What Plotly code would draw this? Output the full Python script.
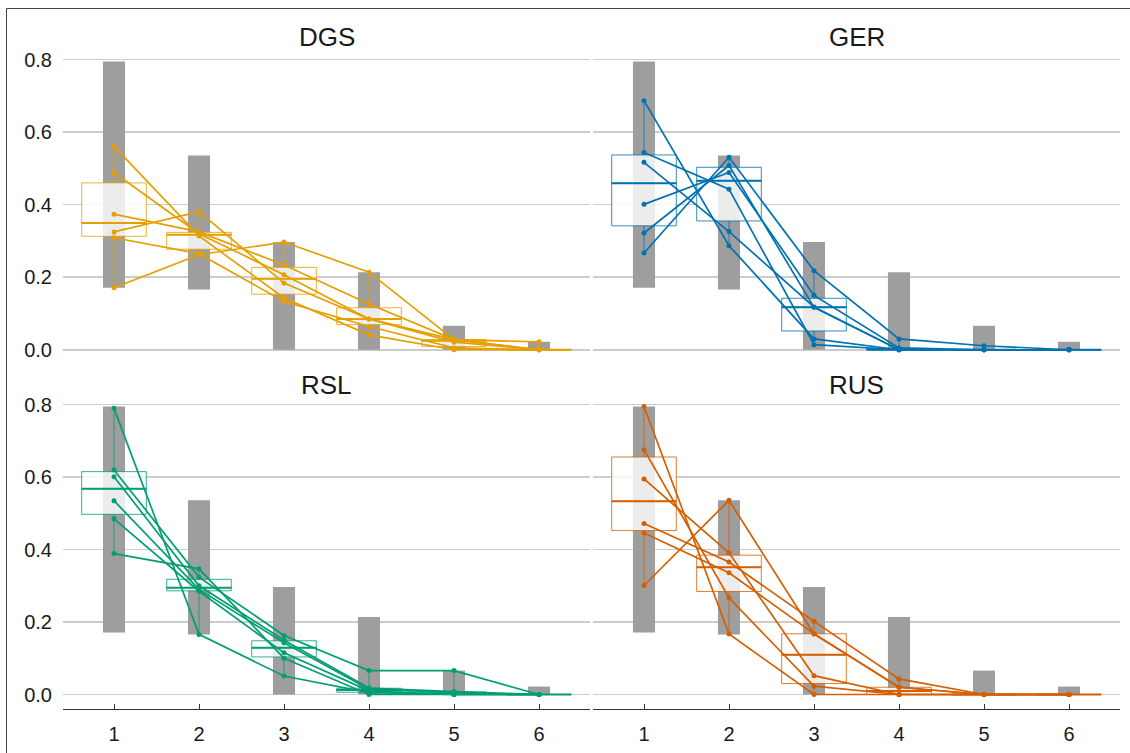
import numpy as np
import plotly.graph_objects as go

positions = [1, 2, 3, 4, 5, 6]
languages = ["DGS", "GER", "RSL", "RUS"]
colors = {"DGS": "#E69F00", "GER": "#0072B2", "RSL": "#009E73", "RUS": "#D55E00"}
y_ticks = [0.0, 0.2, 0.4, 0.6, 0.8]

# one row per speaker, one column per position 1..6
DGS = [
    [0.561, 0.314, 0.143, 0.041, 0.000, 0.000],
    [0.489, 0.320, 0.207, 0.085, 0.028, 0.000],
    [0.374, 0.325, 0.234, 0.126, 0.028, 0.000],
    [0.325, 0.381, 0.184, 0.085, 0.021, 0.000],
    [0.309, 0.265, 0.133, 0.064, 0.005, 0.000],
    [0.171, 0.262, 0.297, 0.214, 0.028, 0.022],
]
GER = [
    [0.687, 0.287, 0.030, 0.000, 0.000, 0.000],
    [0.544, 0.443, 0.014, 0.000, 0.000, 0.000],
    [0.517, 0.326, 0.118, 0.000, 0.000, 0.000],
    [0.401, 0.489, 0.150, 0.005, 0.000, 0.000],
    [0.322, 0.508, 0.117, 0.000, 0.000, 0.000],
    [0.267, 0.531, 0.218, 0.030, 0.011, 0.000],
]
RSL = [
    [0.790, 0.166, 0.051, 0.005, 0.000, 0.000],
    [0.620, 0.324, 0.163, 0.066, 0.066, 0.000],
    [0.601, 0.300, 0.150, 0.018, 0.008, 0.000],
    [0.535, 0.290, 0.143, 0.015, 0.005, 0.000],
    [0.485, 0.285, 0.115, 0.010, 0.000, 0.000],
    [0.389, 0.347, 0.100, 0.000, 0.000, 0.000],
]
RUS = [
    [0.795, 0.167, 0.000, 0.000, 0.000, 0.000],
    [0.676, 0.267, 0.023, 0.000, 0.000, 0.000],
    [0.595, 0.391, 0.052, 0.000, 0.000, 0.000],
    [0.472, 0.366, 0.202, 0.043, 0.000, 0.000],
    [0.446, 0.336, 0.168, 0.020, 0.000, 0.000],
    [0.301, 0.536, 0.167, 0.020, 0.000, 0.000],
]
data = {"DGS": DGS, "GER": GER, "RSL": RSL, "RUS": RUS}

allvals = np.array(DGS + GER + RSL + RUS)
gmin = allvals.min(axis=0)
gmax = allvals.max(axis=0)

BOX_W = 0.76
BAR_W = 0.26


def rgba(hexc, a):
    h = hexc.lstrip("#")
    r, g, b = int(h[0:2], 16), int(h[2:4], 16), int(h[4:6], 16)
    return f"rgba({r},{g},{b},{a})"


fig = go.Figure()
axes = [("x", "y"), ("x2", "y2"), ("x3", "y3"), ("x4", "y4")]
for lang, (xa, ya) in zip(languages, axes):
    col = colors[lang]
    arr = np.array(data[lang])
    fig.add_trace(go.Bar(
        x=positions, y=(gmax - gmin).tolist(), base=gmin.tolist(), width=BAR_W,
        marker=dict(color="#9e9e9e", line=dict(width=0)),
        xaxis=xa, yaxis=ya, showlegend=False, hoverinfo="skip"))
    q1 = np.percentile(arr, 25, axis=0)
    med = np.percentile(arr, 50, axis=0)
    q3 = np.percentile(arr, 75, axis=0)
    fig.add_trace(go.Box(
        x=positions, q1=q1.tolist(), median=med.tolist(), q3=q3.tolist(),
        lowerfence=arr.min(axis=0).tolist(), upperfence=arr.max(axis=0).tolist(),
        width=BOX_W, whiskerwidth=0, boxpoints=False,
        fillcolor="rgba(255,255,255,0.8)",
        line=dict(color=rgba(col, 0.8), width=1),
        xaxis=xa, yaxis=ya, showlegend=False, hoverinfo="skip"))
    mx, my = [], []
    for p, m in zip(positions, med):
        mx += [p - BOX_W / 2, p + BOX_W / 2, None]
        my += [m, m, None]
    fig.add_trace(go.Scatter(
        x=mx, y=my, mode="lines", line=dict(color=col, width=2),
        xaxis=xa, yaxis=ya, showlegend=False, hoverinfo="skip"))
    for sp in data[lang]:
        fig.add_trace(go.Scatter(
            x=positions, y=sp, mode="lines+markers",
            line=dict(color=col, width=1.7), marker=dict(size=5, color=col),
            xaxis=xa, yaxis=ya, showlegend=False, hoverinfo="skip"))

# page body margin is removed by the post script, so figure px == screen px
W, H = 1130, 753
ML, MR, MT, MB = 63, 10, 47, 43.5
pw = W - ML - MR
ph = H - MT - MB
bottom_px = H - MB


def ypaper(screen_y):
    return (bottom_px - screen_y) / ph


def xpaper(screen_x):
    return (screen_x - ML) / pw


xl = [0, xpaper(590)]
xr = [xpaper(593), 1]
yt = [ypaper(364.5), 1]
yb = [0, ypaper(392.3)]

xcommon = dict(range=[0.4, 6.6], showgrid=False, zeroline=False, automargin=False,
               tickvals=positions, ticktext=[str(p) for p in positions])
ycommon = dict(range=[-0.04, 0.835], showgrid=True, gridcolor="#cccccc", gridwidth=1.5,
               zeroline=False, tickvals=y_ticks, tickformat=".1f", showline=False,
               automargin=False)

FONT = "Liberation Sans, Arial, sans-serif"
font = dict(family=FONT, size=20, color="#1a1a1a")

fig.update_layout(
    width=W, height=H,
    margin=dict(l=ML, r=MR, t=MT, b=MB, autoexpand=False),
    paper_bgcolor="white", plot_bgcolor="white",
    font=font,
    showlegend=False,
    hovermode=False,
    xaxis=dict(xcommon, domain=xl, anchor="y", showticklabels=False, showline=False),
    xaxis2=dict(xcommon, domain=xr, anchor="y2", showticklabels=False, showline=False),
    xaxis3=dict(xcommon, domain=xl, anchor="y3", showline=True, linecolor="#333333", linewidth=1.2,
                ticks="inside", ticklen=5, tickcolor="#333333", ticklabelstandoff=7),
    xaxis4=dict(xcommon, domain=xr, anchor="y4", showline=True, linecolor="#333333", linewidth=1.2,
                ticks="inside", ticklen=5, tickcolor="#333333", ticklabelstandoff=7),
    yaxis=dict(ycommon, domain=yt, anchor="x", showticklabels=True, ticklabelstandoff=10),
    yaxis2=dict(ycommon, domain=yt, anchor="x2", showticklabels=False),
    yaxis3=dict(ycommon, domain=yb, anchor="x3", showticklabels=True, ticklabelstandoff=10),
    yaxis4=dict(ycommon, domain=yb, anchor="x4", showticklabels=False),
)

for lang, xd, yv in [("DGS", xl, ypaper(37)), ("GER", xr, ypaper(37)),
                     ("RSL", xl, ypaper(385)), ("RUS", xr, ypaper(385))]:
    fig.add_annotation(text=lang, x=(xd[0] + xd[1]) / 2, y=yv, xref="paper", yref="paper",
                       showarrow=False, xanchor="center", yanchor="middle",
                       font=dict(family=FONT, size=26, color="#1a1a1a"))

fig.add_shape(type="rect", xref="paper", yref="paper",
              x0=xpaper(6.5), x1=xpaper(1150),
              y0=ypaper(780), y1=ypaper(8.5),
              line=dict(color="#444444", width=1), fillcolor="rgba(0,0,0,0)", layer="above")

fig.write_html("out.html",
               config={"displayModeBar": False, "staticPlot": True},
               post_script="document.body.style.margin='0';document.body.style.overflow='hidden';")
